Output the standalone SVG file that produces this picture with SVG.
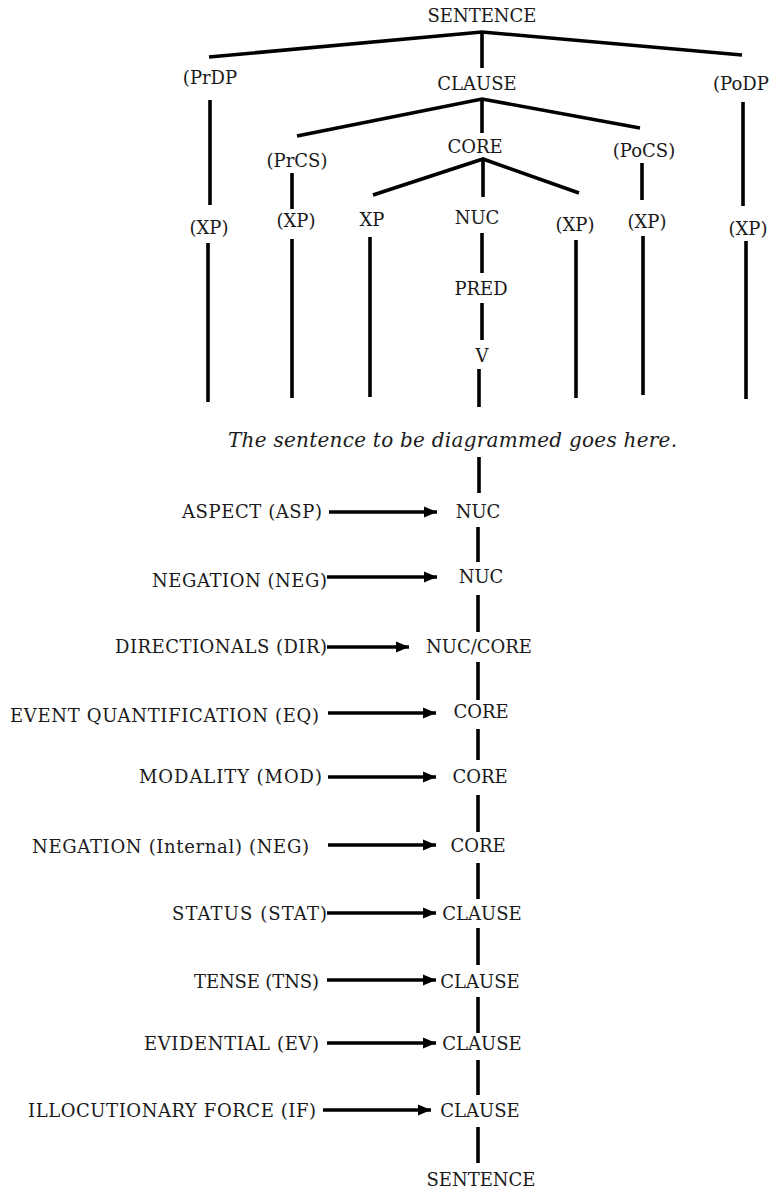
<svg xmlns="http://www.w3.org/2000/svg" width="774" height="1191" viewBox="0 0 774 1191">
  <style>
    text { font-family: "DejaVu Serif", "Liberation Serif", serif; font-size: 18px; fill: #1a1a1a; }
    .c { text-anchor: middle; }
    .it { font-style: italic; font-size: 20px; }
    .edge { stroke: #000; stroke-width: 3.6; fill: none; stroke-linecap: butt; }
    .arr { stroke: #000; stroke-width: 3.3; fill: none; marker-end: url(#head); }
  </style>
  <defs>
    <marker id="head" markerUnits="userSpaceOnUse" markerWidth="13" markerHeight="12" viewBox="0 0 13 12" refX="13" refY="6" orient="auto">
      <path d="M0,0.5 L13,6 L0,11.5 Z" fill="#000"/>
    </marker>
  </defs>
  <rect width="774" height="1191" fill="#fff"/>

  <!-- connectors -->
  <g id="connectors">
    <!-- layered structure of the clause -->
    <path class="edge" d="M209,57 L482,32 L742,55 M482,32 L482,68"/>
    <path class="edge" d="M210,100 V205 M743,102 V206"/>
    <path class="edge" d="M297,136 L482,99 L640,128 M482,99 V133"/>
    <path class="edge" d="M292,173 V209 M642,163 V200"/>
    <path class="edge" d="M373,195 L483,159 L579,193 M483,159 V197"/>
    <path class="edge" d="M208,243 V402 M292,239 V398 M370,237 V397 M576,240 V398 M643,236 V395 M746,241 V399"/>
    <path class="edge" d="M482,233 V273 M482,303 V340 M479,369 V407 M479,457 V493"/>
    <!-- operator spine -->
    <path class="edge" d="M478,527 V562 M478,595 V632 M478,662 V700 M478,729 V760 M478,795 V832 M478,863 V899 M478,928 V965 M478,997 V1033 M478,1060 V1095 M478,1127 V1163"/>
    <!-- operator arrows -->
    <path class="arr" d="M329,512 H437"/>
    <path class="arr" d="M327,577 H437"/>
    <path class="arr" d="M327,647 H409"/>
    <path class="arr" d="M328,713 H436"/>
    <path class="arr" d="M328,777 H436"/>
    <path class="arr" d="M328,845 H436"/>
    <path class="arr" d="M327,913 H436"/>
    <path class="arr" d="M327,980 H436"/>
    <path class="arr" d="M327,1043 H436"/>
    <path class="arr" d="M323,1110 H431"/>
  </g>

  <!-- tree nodes -->
  <g id="n-sentence"><text class="c" x="482" y="22">SENTENCE</text></g>
  <g id="n-prdp"><text class="c" x="210" y="84">(PrDP</text></g>
  <g id="n-clause"><text class="c" x="477" y="90">CLAUSE</text></g>
  <g id="n-podp"><text class="c" x="741" y="90">(PoDP</text></g>
  <g id="n-prcs"><text class="c" x="297" y="167">(PrCS)</text></g>
  <g id="n-core"><text class="c" x="475" y="153">CORE</text></g>
  <g id="n-pocs"><text class="c" x="644" y="157">(PoCS)</text></g>
  <g id="n-xp-prdp"><text class="c" x="209" y="234">(XP)</text></g>
  <g id="n-xp-prcs"><text class="c" x="296" y="227">(XP)</text></g>
  <g id="n-xp-core"><text class="c" x="372" y="226">XP</text></g>
  <g id="n-nuc"><text class="c" x="477" y="224">NUC</text></g>
  <g id="n-xp-core2"><text class="c" x="575" y="231">(XP)</text></g>
  <g id="n-xp-pocs"><text class="c" x="647" y="228">(XP)</text></g>
  <g id="n-xp-podp"><text class="c" x="748" y="235">(XP)</text></g>
  <g id="n-pred"><text class="c" x="481" y="295">PRED</text></g>
  <g id="n-v"><text class="c" x="482" y="362">V</text></g>
  <g id="n-example"><text class="it" x="228" y="447" textLength="449" lengthAdjust="spacing">The sentence to be diagrammed goes here.</text></g>

  <!-- operator projection -->
  <g id="op-asp"><text x="182" y="518" textLength="140" lengthAdjust="spacing">ASPECT (ASP)</text></g>
  <g id="p-nuc1"><text class="c" x="478" y="518">NUC</text></g>
  <g id="op-neg"><text x="152" y="587" textLength="175" lengthAdjust="spacing">NEGATION (NEG)</text></g>
  <g id="p-nuc2"><text class="c" x="481" y="583">NUC</text></g>
  <g id="op-dir"><text x="115" y="653" textLength="212" lengthAdjust="spacing">DIRECTIONALS (DIR)</text></g>
  <g id="p-nuccore"><text class="c" x="479" y="653">NUC/CORE</text></g>
  <g id="op-eq"><text x="10" y="722" textLength="309" lengthAdjust="spacing">EVENT QUANTIFICATION (EQ)</text></g>
  <g id="p-core1"><text class="c" x="481" y="718">CORE</text></g>
  <g id="op-mod"><text x="139" y="783" textLength="183" lengthAdjust="spacing">MODALITY (MOD)</text></g>
  <g id="p-core2"><text class="c" x="480" y="783">CORE</text></g>
  <g id="op-negint"><text x="32" y="853" textLength="277" lengthAdjust="spacing">NEGATION (Internal) (NEG)</text></g>
  <g id="p-core3"><text class="c" x="478" y="852">CORE</text></g>
  <g id="op-stat"><text x="172" y="920" textLength="155" lengthAdjust="spacing">STATUS (STAT)</text></g>
  <g id="p-clause1"><text class="c" x="482" y="920">CLAUSE</text></g>
  <g id="op-tns"><text x="194" y="988" textLength="125" lengthAdjust="spacing">TENSE (TNS)</text></g>
  <g id="p-clause2"><text class="c" x="480" y="988">CLAUSE</text></g>
  <g id="op-ev"><text x="144" y="1050" textLength="175" lengthAdjust="spacing">EVIDENTIAL (EV)</text></g>
  <g id="p-clause3"><text class="c" x="482" y="1050">CLAUSE</text></g>
  <g id="op-if"><text x="28" y="1117" textLength="288" lengthAdjust="spacing">ILLOCUTIONARY FORCE (IF)</text></g>
  <g id="p-clause4"><text class="c" x="480" y="1117">CLAUSE</text></g>
  <g id="p-sentence"><text class="c" x="481" y="1186">SENTENCE</text></g>
</svg>
